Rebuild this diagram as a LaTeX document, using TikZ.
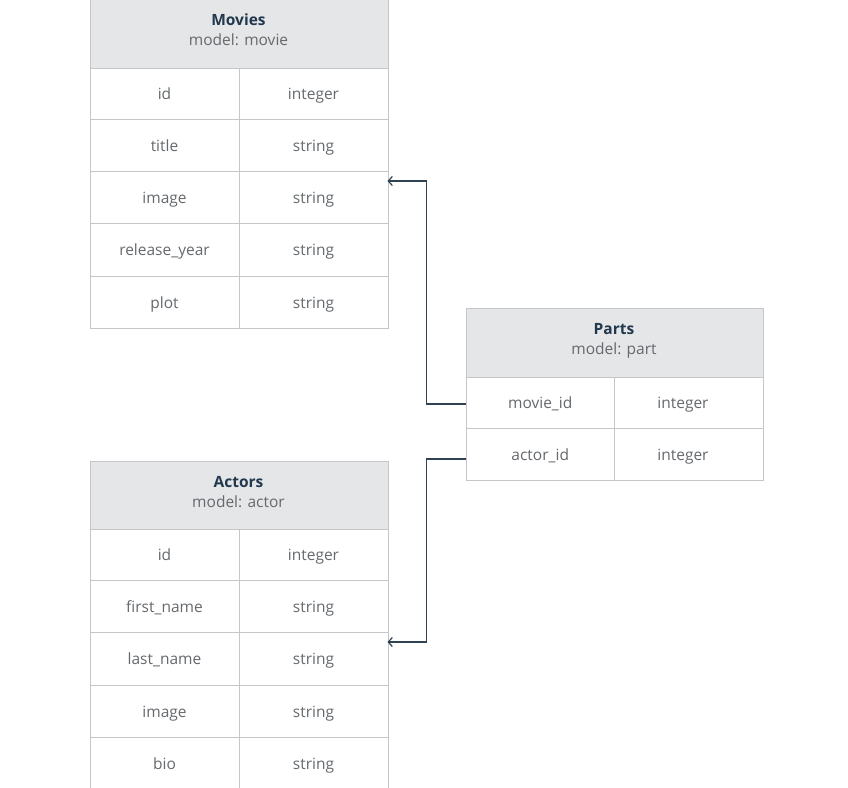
\documentclass[tikz,border=0pt]{standalone}
\usepackage{fontspec}
\setmainfont{Open Sans}
\usetikzlibrary{arrows.meta}
\definecolor{linec}{HTML}{C4C6C9}
\definecolor{headfill}{HTML}{E5E6E8}
\definecolor{titlec}{HTML}{22384D}
\definecolor{bodyc}{HTML}{65696D}
\definecolor{connc}{HTML}{2E4253}
\tikzset{
  cell/.style={draw=linec, line width=1pt, anchor=north west, inner sep=0pt,
    minimum width=149pt, text=bodyc, font=\fontsize{15.5}{19}\selectfont,
    text height=12.5pt, text depth=1.5pt},
  head/.style={draw=linec, fill=headfill, line width=1pt, anchor=north west, inner sep=0pt,
    minimum width=298pt},
  htitle/.style={text=titlec, font=\fontsize{15.5}{19}\selectfont\bfseries, inner sep=0pt, anchor=base},
  hsub/.style={text=bodyc, font=\fontsize{15.5}{19}\selectfont, inner sep=0pt, anchor=base},
  conn/.style={draw=connc, line width=1.2pt, -{Straight Barb[length=4pt,width=9pt]}}
}
\begin{document}
\begin{tikzpicture}[x=1pt,y=-1pt]
\useasboundingbox (0,0) rectangle (848,787);
\clip (0,0) rectangle (848,787);
% Movies
\node[head, minimum height=69pt] (mh) at (89.5,-1) {};
\node[htitle] (mht) at (238.5,25.5) {Movies};
\node[hsub] (mhs) at (238.5,45.5) {model: movie};
\foreach \i/\t/\h/\a/\b in {1/68/51/id/integer, 2/119/52/title/string, 3/171/52/image/string, 4/223/53/release\_year/string, 5/276/52/plot/string} {
  \node[cell, minimum height=\h pt] (m\i-a) at (89.5,\t) {\a};
  \node[cell, minimum height=\h pt] (m\i-b) at (238.5,\t) {\b};
}
% Parts
\node[head, minimum height=69pt, minimum width=297.5pt] (ph) at (465.5,308) {};
\node[htitle] (pht) at (614,334.5) {Parts};
\node[hsub] (phs) at (614,354.5) {model: part};
\foreach \i/\t/\h/\a/\b in {1/377/51/movie\_id/integer, 2/428/52/actor\_id/integer} {
  \node[cell, minimum height=\h pt, minimum width=148.5pt] (p\i-a) at (465.5,\t) {\a};
  \node[cell, minimum height=\h pt] (p\i-b) at (614,\t) {\hspace*{-12pt}\b};
}
% Actors
\node[head, minimum height=68pt] (ah) at (89.5,461) {};
\node[htitle] (aht) at (238.5,487.5) {Actors};
\node[hsub] (ahs) at (238.5,507) {model: actor};
\foreach \i/\t/\h/\a/\b in {1/529/51/id/integer, 2/580/52/first\_name/string, 3/632/53/last\_name/string, 4/685/52/image/string, 5/737/53/bio/string} {
  \node[cell, minimum height=\h pt] (a\i-a) at (89.5,\t) {\a};
  \node[cell, minimum height=\h pt] (a\i-b) at (238.5,\t) {\b};
}
% connectors
\coordinate (mt) at (387.5,181);
\coordinate (at) at (387.5,642);
\draw[conn] (p1-a.west |- 0,404) -- ++(-39,0) |- (mt);
\draw[conn] (p2-a.west |- 0,459) -- ++(-39,0) |- (at);
\end{tikzpicture}
\end{document}
